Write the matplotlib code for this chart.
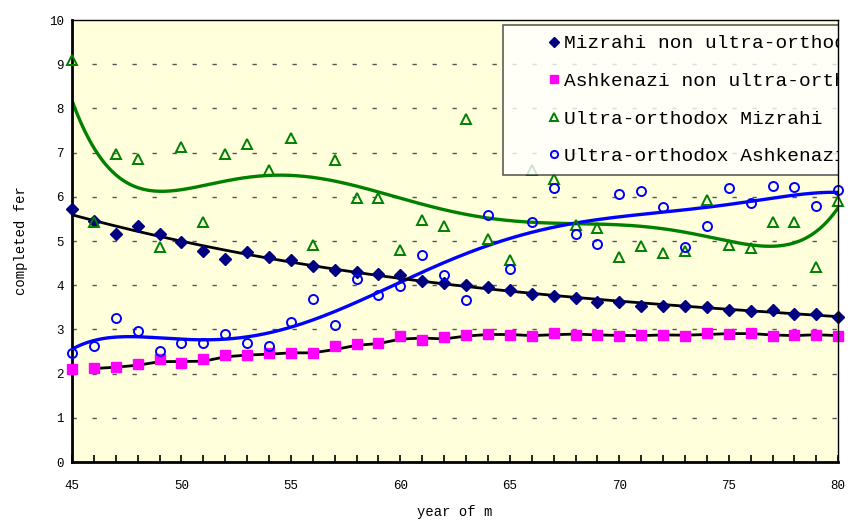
import numpy as np
import matplotlib.pyplot as plt
from matplotlib.ticker import MultipleLocator

plt.rcParams['font.family'] = ['Liberation Mono', 'DejaVu Sans Mono']

years = list(range(45, 81))
mizrahi = [5.73, 5.45, 5.16, 5.33, 5.15, 4.98, 4.78, 4.60, 4.76,
           4.64, 4.56, 4.43, 4.34, 4.30, 4.26, 4.24, 4.10, 4.06,
           4.01, 3.96, 3.89, 3.81, 3.75, 3.72, 3.62, 3.62, 3.52,
           3.54, 3.53, 3.50, 3.44, 3.41, 3.44, 3.34, 3.35, 3.29]
ashkenazi = [2.10, 2.13, 2.16, 2.22, 2.32, 2.23, 2.33, 2.43, 2.41,
             2.47, 2.47, 2.47, 2.62, 2.66, 2.70, 2.86, 2.75, 2.82,
             2.88, 2.89, 2.88, 2.84, 2.92, 2.87, 2.88, 2.85, 2.87,
             2.88, 2.86, 2.91, 2.90, 2.91, 2.84, 2.88, 2.88, 2.84]
# value for 66 sits behind the legend in the original
uo_mizrahi = [9.10, 5.42, 6.98, 6.85, 4.87, 7.12, 5.42, 6.98, 7.19,
              6.60, 7.34, 4.92, 6.83, 5.98, 5.98, 4.80, 5.48, 5.35,
              7.77, 5.04, 4.58, 6.60, 6.41, 5.37, 5.30, 4.64, 4.89,
              4.73, 4.77, 5.92, 4.91, 4.85, 5.42, 5.42, 4.41, 5.91]
uo_ashkenazi = [2.47, 2.63, 3.25, 2.96, 2.51, 2.69, 2.69, 2.90, 2.69,
                2.63, 3.16, 3.69, 3.10, 4.14, 3.79, 3.98, 4.68, 4.22,
                3.67, 5.58, 4.36, 5.43, 6.19, 5.15, 4.94, 6.07, 6.13,
                5.77, 4.86, 5.34, 6.19, 5.85, 6.24, 6.22, 5.79, 6.16]
labels = ["Mizrahi non ultra-orthodox", "Ashkenazi non ultra-orthodox",
          "Ultra-orthodox Mizrahi", "Ultra-orthodox Ashkenazi"]

x = np.array(years, dtype=float)

def poly_trend(y, order):
    # polynomial trendline, fitted on centred x
    c = np.polyfit(x - 62.5, y, order)
    xs = np.linspace(x[0], x[-1], 300)
    return xs, np.polyval(c, xs - 62.5)

fig = plt.figure(figsize=(8.48, 5.2), dpi=100)
ax = fig.add_axes([0.0849, 0.1115, 0.9036, 0.85])
ax.set_facecolor('#ffffdc')

for v in range(1, 10):
    ax.axhline(v, color='#555555', lw=1.0, dashes=(3.1, 11.3), zorder=1)

# trendlines
xs, ys = poly_trend(uo_mizrahi, 6)
ax.plot(xs, ys, color='#008000', lw=2.4, zorder=2)
xs, ys = poly_trend(uo_ashkenazi, 6)
ax.plot(xs, ys, color='#0000ff', lw=2.4, zorder=2)
xs, ys = poly_trend(mizrahi, 3)
ax.plot(xs, ys, color='black', lw=2.0, zorder=2)
ma = (np.array(ashkenazi[1:]) + np.array(ashkenazi[:-1])) / 2
ax.plot(x[1:], ma, color='black', lw=2.0, zorder=2)

ax.plot(years, mizrahi, 'D', color='#000080', ms=6.5, ls='none', label=labels[0], zorder=3, clip_on=False)
ax.plot(years, ashkenazi, 's', color='#ff00ff', ms=7.5, ls='none', label=labels[1], zorder=3, clip_on=False)
ax.plot(years, uo_mizrahi, '^', mfc='none', mec='#008000', mew=1.4, ms=7.5, ls='none', label=labels[2], zorder=3, clip_on=False)
ax.plot(years, uo_ashkenazi, 'o', mfc='none', mec='#0000ff', mew=1.4, ms=6.5, ls='none', label=labels[3], zorder=3, clip_on=False)

ax.set_xlim(45, 80)
ax.set_ylim(0, 10)
ax.xaxis.set_major_locator(MultipleLocator(5))
ax.xaxis.set_minor_locator(MultipleLocator(1))
ax.yaxis.set_major_locator(MultipleLocator(1))
ax.tick_params(axis='x', which='both', direction='in', length=5, width=1.2, labelsize=9, pad=13)
ax.tick_params(axis='y', length=0, labelsize=9, pad=6)

for s in ['left', 'bottom']:
    ax.spines[s].set_linewidth(2.0)
for s in ['top', 'right']:
    ax.spines[s].set_linewidth(1.0)
ax.spines['right'].set_zorder(6)

ax.set_xlabel("year of m", fontsize=10, labelpad=9)
ax.set_ylabel("completed fer", fontsize=10, labelpad=15)

leg = ax.legend(loc='upper left', bbox_to_anchor=(0.5627, 0.9887), borderaxespad=0,
                fontsize=14, frameon=True, fancybox=False, edgecolor='#333333',
                handlelength=4.2, handletextpad=-1.58, borderpad=0.5,
                labelspacing=1.03, numpoints=1, markerscale=0.8)
leg.set_zorder(5)
leg.get_frame().set_linewidth(1.2)
leg.legendPatch.set_clip_box(ax.bbox)
for t in leg.get_texts():
    t.set_clip_box(ax.bbox)
    t.set_clip_on(True)

fig.savefig('out.png', dpi=100)
